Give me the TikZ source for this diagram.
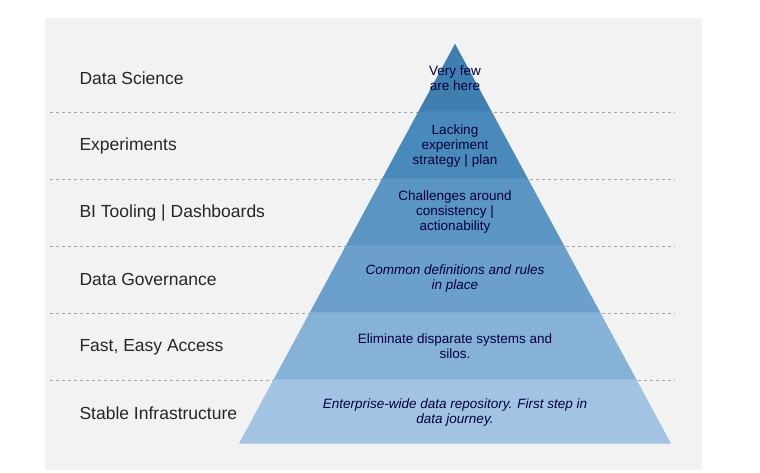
\documentclass[tikz,border=0pt]{standalone}
\usepackage{fontspec}
\setmainfont{Liberation Sans}
\begin{document}
\begin{tikzpicture}[x=1pt,y=-1pt]

\tikzstyle{levelname}=[anchor=west, font=\fontsize{17.5}{20}\selectfont, text=black!85]
\tikzstyle{inside}=[align=center, font=\fontsize{13.5}{15}\selectfont, text=blue!25!black]
\tikzstyle{insideit}=[inside, font=\fontsize{13.5}{15}\selectfont\itshape]
\tikzstyle{divider}=[dashed, gray!70, line width=0.6pt]
\tikzstyle{layer}=[draw=white, line width=1.2pt]

\definecolor{lay1}{HTML}{3F7FB0}
\definecolor{lay2}{HTML}{4A8ABA}
\definecolor{lay3}{HTML}{5A95C3}
\definecolor{lay4}{HTML}{6BA0CC}
\definecolor{lay5}{HTML}{86B2D7}
\definecolor{lay6}{HTML}{A2C3E1}

\useasboundingbox (0,0) rectangle (760,473);
\fill[white] (0,0) rectangle (760,473);
\fill[gray!10] (45,18) rectangle (702,470);

% dashed dividers
\foreach \y in {112,179,246,313,380}
  \draw[divider] (50,\y) -- (675,\y);

% pyramid layers
\fill[layer, lay1] (455,45) -- (491.2,112) -- (418.8,112) -- cycle;
\fill[layer, lay2] (418.8,112) -- (491.2,112) -- (527.4,179) -- (382.6,179) -- cycle;
\fill[layer, lay3] (382.6,179) -- (527.4,179) -- (563.6,246) -- (346.4,246) -- cycle;
\fill[layer, lay4] (346.4,246) -- (563.6,246) -- (599.8,313) -- (310.2,313) -- cycle;
\fill[layer, lay5] (310.2,313) -- (599.8,313) -- (636.0,380) -- (274.0,380) -- cycle;
\fill[layer, lay6] (274.0,380) -- (636.0,380) -- (670,443) -- (240,443) -- cycle;

% texts in the pyramid
\node[inside] (t1) at (455,78) {Very few\\are here};
\node[inside] (t2) at (455,146) {Lacking\\experiment\\strategy | plan};
\node[inside] (t3) at (455,212) {Challenges around\\consistency |\\actionability};
\node[insideit] (t4) at (455,279) {Common definitions and rules\\in place};
\node[inside] (t5) at (455,346) {Eliminate disparate systems and\\silos.};
\node[insideit] (t6) at (455,413) {Enterprise-wide data repository. First step in\\data journey.};

% level names
\node[levelname] (n1) at (76,78) {Data Science};
\node[levelname] (n2) at (76,146) {Experiments};
\node[levelname] (n3) at (76,213) {BI Tooling | Dashboards};
\node[levelname] (n4) at (76,279) {Data Governance};
\node[levelname] (n5) at (76,347) {Fast, Easy Access};
\node[levelname] (n6) at (76,413) {Stable Infrastructure};

\end{tikzpicture}
\end{document}
